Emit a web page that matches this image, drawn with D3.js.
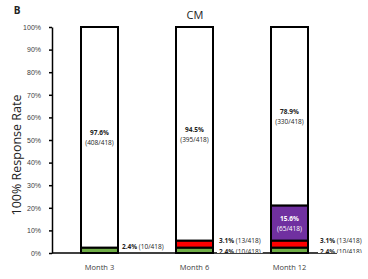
<!DOCTYPE html>
<html>
<head>
<meta charset="utf-8">
<script src="https://cdn.jsdelivr.net/npm/d3@7/dist/d3.min.js"></script>
<style>
  body { margin: 0; background: #fff; }
  svg { display: block; font-family: "Open Sans", "Liberation Sans", sans-serif; }
</style>
</head>
<body>
<div id="chart"></div>
<script>
// data (counts out of 418 responders)
var months = ['Month 3', 'Month 6', 'Month 12'];
var total = 418;
var green_n = [10, 10, 10];
var red_n = [0, 13, 13];
var purple_n = [0, 0, 65];
var white_n = [408, 395, 330];
var y_ticks = [0, 10, 20, 30, 40, 50, 60, 70, 80, 90, 100];

var keys = ['green', 'red', 'purple', 'white'];
var colors = {green: '#70ad47', red: '#ff0000', purple: '#7030a0', white: '#ffffff'};

var rows = months.map(function(m, i) {
  return {month: m, green: green_n[i], red: red_n[i], purple: purple_n[i], white: white_n[i]};
});

const W = 368, H = 279;
const plot_left = 52, plot_right = 337, plot_top = 27, plot_bottom = 253;
const bar_w = 37;

var svg = d3.select('#chart').append('svg').attr('width', W).attr('height', H);

var x = d3.scalePoint().domain(months).range([plot_left, plot_right]).padding(0.5);
var y = d3.scaleLinear().domain([0, 100]).range([plot_bottom, plot_top]);
var pct = n => n / total * 100;

var series = d3.stack().keys(keys)(rows);

// bars
var g = svg.append('g');
series.forEach(function(s) {
  g.selectAll('rect.' + s.key).data(s.filter(d => d[1] > d[0])).enter().append('rect')
    .attr('class', s.key)
    .attr('x', d => x(d.data.month) - bar_w / 2)
    .attr('width', bar_w)
    .attr('y', d => y(pct(d[1])))
    .attr('height', d => y(pct(d[0])) - y(pct(d[1])))
    .attr('fill', colors[s.key])
    .attr('stroke', '#000')
    .attr('stroke-width', 2);
});

// axes
var yAxis = svg.append('g').attr('transform', 'translate(' + plot_left + ',0)')
  .call(d3.axisLeft(y).tickValues(y_ticks).tickFormat(d => d + '%').tickSize(3).tickSizeOuter(0).tickPadding(8));
yAxis.select('.domain').attr('stroke-width', 1.5);
yAxis.selectAll('.tick line').attr('stroke-width', 1.5);
yAxis.selectAll('text').attr('font-size', 7).attr('fill', '#404040');

svg.append('line').attr('x1', plot_left).attr('x2', plot_right).attr('y1', plot_bottom).attr('y2', plot_bottom)
  .attr('stroke', '#000').attr('stroke-width', 1.5);

svg.append('g').selectAll('text').data(months).enter().append('text')
  .attr('x', d => x(d)).attr('y', 270)
  .attr('text-anchor', 'middle').attr('font-size', 7.5).attr('fill', '#404040')
  .text(d => d);

// inside labels
function inside_label(month, mid, n, col) {
  var t = svg.append('text').attr('x', x(month)).attr('text-anchor', 'middle')
    .attr('font-size', 6.5).attr('fill', col);
  t.append('tspan').attr('x', x(month)).attr('y', mid - 2).attr('font-weight', 'bold')
    .text(pct(n).toFixed(1) + '%');
  t.append('tspan').attr('x', x(month)).attr('y', mid + 8)
    .text('(' + n + '/' + total + ')');
}
series.forEach(function(s) {
  if (s.key != 'white' && s.key != 'purple') return;
  s.forEach(function(d) {
    var n = d.data[s.key];
    if (!n) return;
    var mid = y((pct(d[0]) + pct(d[1])) / 2);
    inside_label(d.data.month, mid, n, s.key == 'white' ? '#222' : '#fff');
  });
});

// outside labels with white box
svg.append('clipPath').attr('id', 'plotclip').append('rect')
  .attr('x', 0).attr('y', 0).attr('width', W).attr('height', plot_bottom);

function side_label(month, yy, n, gap, clip) {
  var gl = svg.append('g');
  if (clip) gl.attr('clip-path', 'url(#plotclip)');
  var bx = gl.append('rect').attr('fill', '#fff');
  var t = gl.append('text').attr('x', x(month) + bar_w / 2 + gap).attr('y', yy + 2.5)
    .attr('font-size', 6.5).attr('fill', '#222');
  t.append('tspan').attr('font-weight', 'bold').text(pct(n).toFixed(1) + '% ');
  t.append('tspan').text('(' + n + '/' + total + ')');
  var bb = t.node().getBBox();
  bx.attr('x', bb.x - 2).attr('y', yy - 6).attr('width', bb.width + 4).attr('height', 12);
}
side_label('Month 3', 246, green_n[0], 4, false);
side_label('Month 6', 251, green_n[1], 6, true);
side_label('Month 6', 240, red_n[1], 6, false);
side_label('Month 12', 251, green_n[2], 12, true);
side_label('Month 12', 240, red_n[2], 12, false);

// titles
svg.append('text').attr('x', 195).attr('y', 19).attr('text-anchor', 'middle')
  .attr('font-size', 11).attr('fill', '#222').text('CM');
svg.append('text').attr('x', 17).attr('y', 14).attr('text-anchor', 'middle')
  .attr('font-size', 10).attr('font-weight', 'bold').attr('fill', '#222').text('B');
svg.append('text').attr('transform', 'translate(21,155) rotate(-90)')
  .attr('text-anchor', 'middle').attr('font-size', 12.5).attr('fill', '#222')
  .text('100% Response Rate');
</script>
</body>
</html>
